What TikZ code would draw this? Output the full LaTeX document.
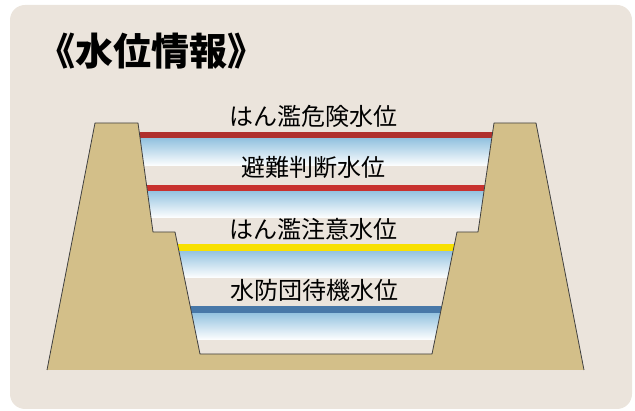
\documentclass[tikz,border=0pt]{standalone}
\usepackage{fontspec}
\newfontfamily\jpfont{Noto Sans CJK JP}
\newfontfamily\jpheavy{Noto Sans CJK JP Black}
\definecolor{panelbg}{RGB}{235,228,220}
\definecolor{banktan}{RGB}{211,191,137}
\definecolor{dangerred}{RGB}{176,48,46}
\definecolor{evacred}{RGB}{200,49,46}
\definecolor{cautionyel}{RGB}{248,224,0}
\definecolor{standbyblue}{RGB}{72,120,168}
\definecolor{waterblue}{RGB}{145,193,223}
\usetikzlibrary{positioning}

\begin{document}
\begin{tikzpicture}[x=1pt, y=-1pt,
    level/.style={line width=6.3pt},
    band/.style={top color=waterblue, bottom color=white},
    lvltext/.style={font=\jpfont\fontsize{24}{24}\selectfont, inner sep=0pt}]
  \useasboundingbox (0,0) rectangle (635,411);
  \fill[panelbg, rounded corners=15pt] (10,5) rectangle (632,409);

  \node[anchor=west, inner sep=0pt,
        font=\jpheavy\fontsize{38}{38}\selectfont] (title) at (37,51) {《水位情報》};

  % water bands and level lines, kept inside the channel
  \begin{scope}
    \clip (138,123) -- (153,232) -- (175,232) -- (200,354) -- (432,354)
      -- (457,232) -- (478,232) -- (494,123) -- cycle;
    \shade[band] (100,138) rectangle (540,166);
    \shade[band] (100,190) rectangle (540,218);
    \shade[band] (100,250) rectangle (540,278);
    \shade[band] (100,312) rectangle (540,340);
    \draw[level, dangerred] (100,135) -- (540,135);
    \draw[level, evacred] (100,188) -- (540,188);
    \draw[level, cautionyel] (100,247.5) -- (540,247.5);
    \draw[level, standbyblue] (100,309.5) -- (540,309.5);
  \end{scope}

  % banks
  \fill[banktan] (47,370) -- (95,123) -- (138,123) -- (153,232) -- (175,232)
    -- (200,354) -- (432,354) -- (457,232) -- (478,232) -- (494,123)
    -- (536,123) -- (584,370) -- cycle;
  \draw[black!75, line width=0.8pt, line join=round] (47,370) -- (95,123)
    -- (138,123) -- (153,232) -- (175,232) -- (200,354) -- (432,354)
    -- (457,232) -- (478,232) -- (494,123) -- (536,123) -- (584,370);

  \node[lvltext] (danger) at (313,116) {はん濫危険水位};
  \node[lvltext] (evac) at (313,167) {避難判断水位};
  \node[lvltext] (caution) at (313,229) {はん濫注意水位};
  \node[lvltext] (standby) at (314,290) {水防団待機水位};
\end{tikzpicture}
\end{document}
